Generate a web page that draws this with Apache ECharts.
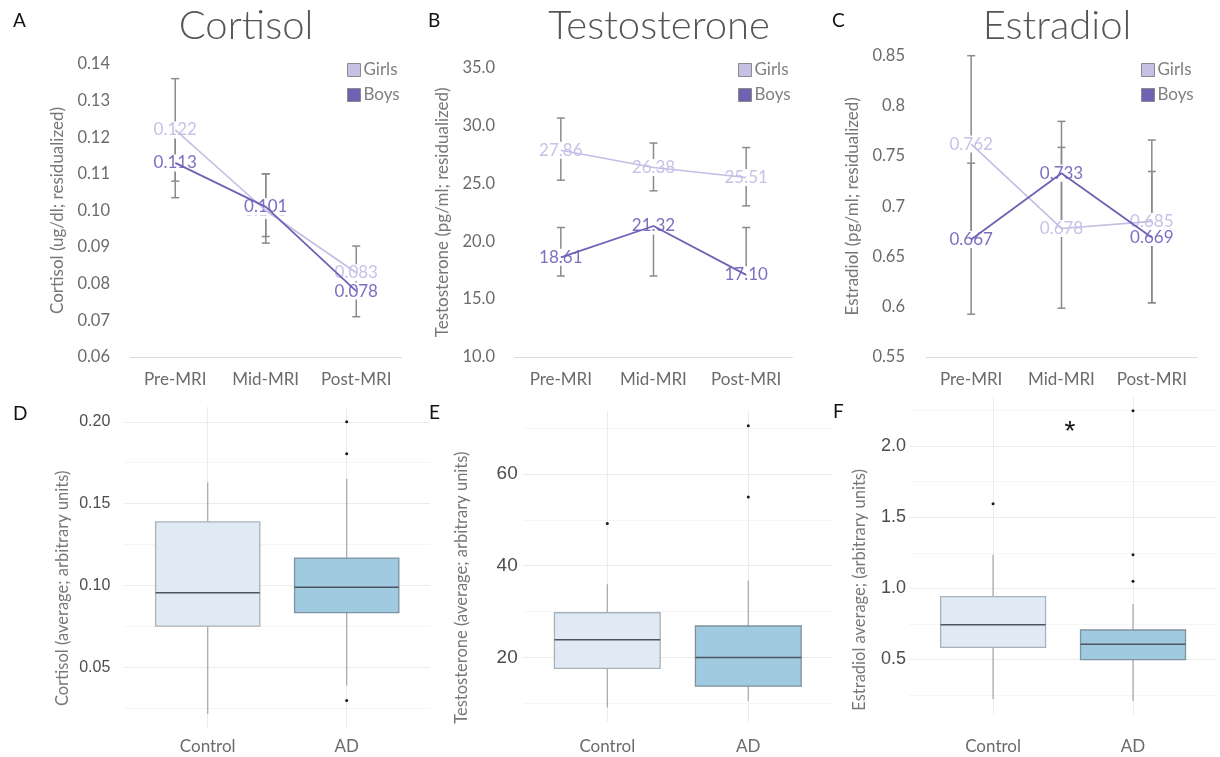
<!DOCTYPE html>
<html>
<head>
<meta charset="utf-8">
<script src="https://cdn.jsdelivr.net/npm/echarts@6/dist/echarts.min.js"></script>
<style>
html,body{margin:0;padding:0;background:#fff;}
#chart{width:1220px;height:757px;}
</style>
</head>
<body>
<div id="chart"></div>
<script>
// ---------------- DATA ----------------
const timepoints = ['Pre-MRI', 'Mid-MRI', 'Post-MRI'];
const groupNames = ['Girls', 'Boys'];

// Panel A - Cortisol (ug/dl; residualized)
const cortisolGirls = [0.122, 0.100, 0.083];
const cortisolGirlsLow = [0.108, 0.0911, 0.0765];
const cortisolGirlsHigh = [0.136, 0.110, 0.0903];
const cortisolBoys = [0.113, 0.101, 0.078];
const cortisolBoysLow = [0.1035, 0.0929, 0.071];
const cortisolBoysHigh = [0.1225, 0.110, 0.085];

// Panel B - Testosterone (pg/ml; residualized)
const testoGirls = [27.86, 26.38, 25.51];
const testoGirlsLow = [25.28, 24.36, 23.06];
const testoGirlsHigh = [30.65, 28.49, 28.10];
const testoBoys = [18.61, 21.32, 17.10];
const testoBoysLow = [17.0, 17.0, 16.9];
const testoBoysHigh = [21.19, 21.5, 21.19];

// Panel C - Estradiol (pg/ml; residualized)
const estraGirls = [0.762, 0.678, 0.685];
const estraGirlsLow = [0.674, 0.5986, 0.604];
const estraGirlsHigh = [0.850, 0.7587, 0.766];
const estraBoys = [0.667, 0.733, 0.669];
const estraBoysLow = [0.5926, 0.681, 0.604];
const estraBoysHigh = [0.743, 0.7846, 0.7347];

// Bottom panels: [lower whisker, Q1, median, Q3, upper whisker]
const boxCategories = ['Control', 'AD'];
const cortisolControl = [0.0214, 0.0751, 0.0955, 0.1388, 0.163];
const cortisolAD = [0.0388, 0.0833, 0.0988, 0.1167, 0.1651];
const cortisolControlOutliers = [];
const cortisolADOutliers = [0.200, 0.1804, 0.0296];

const testoControl = [9.07, 17.6, 23.85, 29.75, 35.95];
const testoAD = [10.5, 13.73, 20.0, 26.85, 36.8];
const testoControlOutliers = [49.2];
const testoADOutliers = [70.55, 54.97];

const estraControl = [0.221, 0.585, 0.744, 0.941, 1.236];
const estraAD = [0.21, 0.498, 0.606, 0.707, 0.89];
const estraControlOutliers = [1.595];
const estraADOutliers = [2.25, 1.236, 1.05];

// ---------------- STYLE / LAYOUT ----------------
const girlsLine = '#c3bee3', boysLine = '#6e62b5';
const girlsLabel = '#c6c2e8', boysLabel = '#7a70c2';
const girlsFill = '#c5c1e5', boysFill = '#6e63b3';
const boxFills = ['#dfeaf5', '#9fcae0'];
const boxStrokes = ['#a9b1b9', '#7f929e'];
const FONT = 'Lato';

const topPanels = [
  { letter: 'A', title: 'Cortisol', titleX: 246, yName: 'Cortisol (ug/dl; residualized)',
    g: cortisolGirls, gl: cortisolGirlsLow, gh: cortisolGirlsHigh,
    b: cortisolBoys, bl: cortisolBoysLow, bh: cortisolBoysHigh,
    min: 0.06, max: 0.14, interval: 0.01, tickDec: 2, valDec: 3, strip: false,
    grid: { left: 130, top: 64, width: 271.5, height: 293 }, labelMargin: 20, nameGap: 63.5, legendLeft: 347, letterX: 13 },
  { letter: 'B', title: 'Testosterone', titleX: 659, yName: 'Testosterone (pg/ml; residualized)',
    g: testoGirls, gl: testoGirlsLow, gh: testoGirlsHigh,
    b: testoBoys, bl: testoBoysLow, bh: testoBoysHigh,
    min: 10, max: 35, interval: 5, tickDec: 1, valDec: 2, strip: false,
    grid: { left: 514.5, top: 67.7, width: 278, height: 289.3 }, labelMargin: 19.5, nameGap: 63, legendLeft: 738, letterX: 428 },
  { letter: 'C', title: 'Estradiol', titleX: 1057, yName: 'Estradiol (pg/ml; residualized)',
    g: estraGirls, gl: estraGirlsLow, gh: estraGirlsHigh,
    b: estraBoys, bl: estraBoysLow, bh: estraBoysHigh,
    min: 0.55, max: 0.85, interval: 0.05, tickDec: 2, valDec: 3, strip: true,
    grid: { left: 926, top: 55.7, width: 271, height: 301.3 }, labelMargin: 21, nameGap: 64.5, legendLeft: 1141, letterX: 832 }
];

const bottomPanels = [
  { letter: 'D', letterX: 13, letterY: 414, yName: 'Cortisol (average; arbitrary units)',
    control: cortisolControl, ad: cortisolAD, cOut: cortisolControlOutliers, aOut: cortisolADOutliers,
    min: 0.0128, max: 0.2092, step: 0.05, dec: 2,
    grid: { left: 124.3, top: 406.7, width: 305.8, height: 321.3 }, labelFont: 16, labelMargin: 14, nameGap: 53, nameShift: 21, xMargin: 10.5 },
  { letter: 'E', letterX: 429, letterY: 413, yName: 'Testosterone (average; arbitrary units)',
    control: testoControl, ad: testoAD, cOut: testoControlOutliers, aOut: testoADOutliers,
    min: 5.98, max: 73.6, step: 20, dec: 0,
    grid: { left: 522.7, top: 411.7, width: 310.2, height: 310 }, labelFont: 19, labelMargin: 5, nameGap: 52.7, nameShift: 21, xMargin: 16.8 },
  { letter: 'F', letterX: 833, letterY: 412, yName: 'Estradiol average; (arbitrary units)',
    control: estraControl, ad: estraAD, cOut: estraControlOutliers, aOut: estraADOutliers,
    min: 0.109, max: 2.348, step: 0.5, dec: 1,
    grid: { left: 909.1, top: 396.7, width: 317.5, height: 318.3 }, labelFont: 18, labelMargin: 3, nameGap: 40.8, nameShift: 34, xMargin: 23.5 }
];

// ---------------- RENDERERS ----------------
function renderErr(params, api) {
  const x = api.value(0);
  const lo = api.coord([x, api.value(1)]);
  const hi = api.coord([x, api.value(2)]);
  const c = 4;
  const st = { stroke: '#8a8a8a', lineWidth: 1.5 };
  return { type: 'group', children: [
    { type: 'line', shape: { x1: lo[0], y1: lo[1], x2: hi[0], y2: hi[1] }, style: st },
    { type: 'line', shape: { x1: lo[0] - c, y1: lo[1], x2: lo[0] + c, y2: lo[1] }, style: st },
    { type: 'line', shape: { x1: hi[0] - c, y1: hi[1], x2: hi[0] + c, y2: hi[1] }, style: st }
  ]};
}

function renderBox(params, api) {
  const x = api.value(0);
  const idx = api.value(6);
  const w = api.size([1, 0])[0] * 0.75;
  const pLo = api.coord([x, api.value(1)]);
  const pQ1 = api.coord([x, api.value(2)]);
  const pMed = api.coord([x, api.value(3)]);
  const pQ3 = api.coord([x, api.value(4)]);
  const pHi = api.coord([x, api.value(5)]);
  const ws = { stroke: '#ababab', lineWidth: 1.3 };
  return { type: 'group', children: [
    { type: 'line', shape: { x1: pLo[0], y1: pLo[1], x2: pQ1[0], y2: pQ1[1] }, style: ws },
    { type: 'line', shape: { x1: pQ3[0], y1: pQ3[1], x2: pHi[0], y2: pHi[1] }, style: ws },
    { type: 'rect', shape: { x: pQ1[0] - w / 2, y: pQ3[1], width: w, height: pQ1[1] - pQ3[1] },
      style: { fill: boxFills[idx], stroke: boxStrokes[idx], lineWidth: 1.3 } },
    { type: 'line', shape: { x1: pMed[0] - w / 2, y1: pMed[1], x2: pMed[0] + w / 2, y2: pMed[1] },
      style: { stroke: '#4a5560', lineWidth: 1.5 } }
  ]};
}

// ---------------- OPTION ----------------
const option = {
  animation: false,
  backgroundColor: '#fff',
  textStyle: { fontFamily: FONT },
  grid: [], xAxis: [], yAxis: [], series: [], legend: [], graphic: []
};

topPanels.forEach((p, i) => {
  option.grid.push(Object.assign({}, p.grid));
  option.xAxis.push({
    gridIndex: i, type: 'category', data: timepoints, boundaryGap: true,
    axisLine: { show: true, lineStyle: { color: '#dcdcdc', width: 1 } },
    axisTick: { show: false }, splitLine: { show: false },
    axisLabel: { color: '#6b6b6b', fontSize: 17, fontFamily: FONT, margin: 14, interval: 0, hideOverlap: false }
  });
  option.yAxis.push({
    gridIndex: i, type: 'value', min: p.min, max: p.max, interval: p.interval,
    axisLine: { show: false }, axisTick: { show: false }, splitLine: { show: false },
    axisLabel: { color: '#6b6b6b', fontSize: 16.5, fontFamily: FONT, margin: p.labelMargin,
      formatter: v => p.strip ? String(+v.toFixed(p.tickDec)) : v.toFixed(p.tickDec) },
    name: p.yName, nameLocation: 'middle', nameRotate: 90, nameGap: p.nameGap,
    nameTextStyle: { color: '#777', fontSize: 17, fontFamily: FONT }
  });
  const errData = [];
  timepoints.forEach((t, k) => errData.push([k, p.gl[k], p.gh[k]]));
  timepoints.forEach((t, k) => errData.push([k, p.bl[k], p.bh[k]]));
  option.series.push({
    type: 'custom', name: 'err' + p.letter, xAxisIndex: i, yAxisIndex: i, z: 1, silent: true,
    renderItem: renderErr, encode: { x: 0, y: [1, 2] }, data: errData
  });
  const groups = [
    { name: 'Girls', vals: p.g, fill: girlsFill, lab: girlsLabel, line: girlsLine, w: 1.6 },
    { name: 'Boys', vals: p.b, fill: boysFill, lab: boysLabel, line: boysLine, w: 1.8 }
  ];
  groups.forEach(gr => {
    option.series.push({
      type: 'scatter', name: gr.name, xAxisIndex: i, yAxisIndex: i, z: 2, silent: true,
      symbolSize: 2, itemStyle: { color: gr.fill, opacity: 1 },
      data: gr.vals.map((v, k) => [k, v]),
      label: { show: true, position: 'inside', color: gr.lab, fontSize: 17, fontFamily: FONT,
        backgroundColor: '#fff', padding: [0, 1],
        formatter: d => d.value[1].toFixed(p.valDec) }
    });
  });
  groups.forEach(gr => {
    option.series.push({
      type: 'line', name: gr.name, xAxisIndex: i, yAxisIndex: i, z: 3, silent: true,
      symbol: 'none', data: gr.vals, lineStyle: { color: gr.line, width: gr.w },
      itemStyle: { color: gr.fill }
    });
  });
  option.legend.push({
    data: groupNames, orient: 'vertical', left: p.legendLeft, top: 61.5, padding: 0, icon: 'rect',
    itemWidth: 13, itemHeight: 13, itemGap: 8, selectedMode: false,
    itemStyle: { borderColor: '#8a8a8a', borderWidth: 1, opacity: 1 },
    textStyle: { color: '#808080', fontSize: 17, fontFamily: FONT, padding: [0, 0, 0, -2] }
  });
  option.graphic.push({ type: 'text', x: p.titleX, y: 26, silent: true,
    style: { text: p.title, font: '300 40px ' + FONT, fill: '#555', align: 'center', verticalAlign: 'middle' } });
  option.graphic.push({ type: 'text', x: p.letterX, y: 21, silent: true,
    style: { text: p.letter, font: '19px ' + FONT, fill: '#111', align: 'left', verticalAlign: 'middle' } });
});

bottomPanels.forEach((p, j) => {
  const i = j + 3;
  option.grid.push(Object.assign({}, p.grid));
  option.xAxis.push({
    gridIndex: i, type: 'value', min: 0.4, max: 2.6, minInterval: 1, maxInterval: 1, splitNumber: 2,
    axisLine: { show: false }, axisTick: { show: false },
    splitLine: { show: true, showMinLine: false, showMaxLine: false, lineStyle: { color: '#ececec', width: 1 } },
    axisLabel: { color: '#6b6b6b', fontSize: 17, fontFamily: FONT, margin: p.xMargin,
      formatter: v => (Math.abs(v - Math.round(v)) < 1e-6 && boxCategories[Math.round(v) - 1]) || '' }
  });
  option.yAxis.push({
    gridIndex: i, type: 'value', min: p.min, max: p.max, minInterval: p.step, maxInterval: p.step, splitNumber: 4,
    axisLine: { show: false }, axisTick: { show: false },
    splitLine: { show: true, showMinLine: false, showMaxLine: false, lineStyle: { color: '#ebebeb', width: 1 } },
    minorTick: { show: false, splitNumber: 2 },
    minorSplitLine: { show: true, lineStyle: { color: '#f5f5f5', width: 1 } },
    axisLabel: { color: '#4d4d4d', fontSize: p.labelFont, fontFamily: 'Liberation Sans', margin: p.labelMargin,
      formatter: v => (Math.abs(v / p.step - Math.round(v / p.step)) < 1e-6) ? v.toFixed(p.dec) : '' },
    name: p.yName, nameLocation: 'middle', nameRotate: 90, nameGap: p.nameGap,
    nameTextStyle: { color: '#777', fontSize: 16.5, fontFamily: FONT, padding: [0, 2 * p.nameShift, 0, 0] }
  });
  option.series.push({
    type: 'custom', name: 'box' + p.letter, xAxisIndex: i, yAxisIndex: i, z: 2, silent: true,
    renderItem: renderBox, encode: { x: 0, y: [1, 2, 3, 4, 5] },
    data: [[1].concat(p.control, [0]), [2].concat(p.ad, [1])]
  });
  option.series.push({
    type: 'scatter', name: 'out' + p.letter, xAxisIndex: i, yAxisIndex: i, z: 3, silent: true,
    symbolSize: 3, itemStyle: { color: '#1a1a1a', opacity: 1 },
    data: p.cOut.map(v => [1, v]).concat(p.aOut.map(v => [2, v]))
  });
  option.graphic.push({ type: 'text', x: p.letterX, y: p.letterY, silent: true,
    style: { text: p.letter, font: '19px ' + FONT, fill: '#111', align: 'left', verticalAlign: 'middle' } });
});

// significance marker in panel F
option.graphic.push({ type: 'text', x: 1070, y: 432, silent: true,
  style: { text: '*', font: '28px Liberation Sans', fill: '#111', align: 'center', verticalAlign: 'middle' } });

const chart = echarts.init(document.getElementById('chart'), null, { renderer: 'canvas' });
chart.setOption(option);
</script>
</body>
</html>
